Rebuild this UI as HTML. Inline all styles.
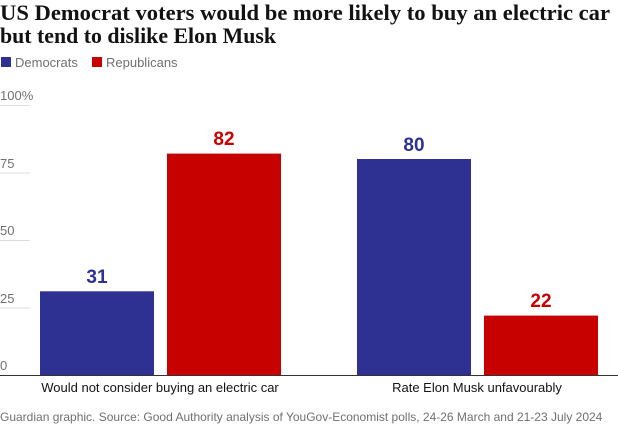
<!DOCTYPE html>
<html><head><meta charset="utf-8"><style>
html,body{margin:0;padding:0;background:#fff;width:618px;height:427px;overflow:hidden}
svg{display:block}
.s{font-family:"Liberation Sans",sans-serif}
</style></head><body>
<svg width="618" height="427" viewBox="0 0 618 427">
<text x="0" y="20" font-family="Liberation Serif,serif" font-weight="bold" font-size="22" fill="#121212" textLength="610" lengthAdjust="spacingAndGlyphs">US Democrat voters would be more likely to buy an electric car</text>
<text x="0" y="43" font-family="Liberation Serif,serif" font-weight="bold" font-size="22" fill="#121212" textLength="276" lengthAdjust="spacingAndGlyphs">but tend to dislike Elon Musk</text>
<rect x="1" y="57" width="10" height="10" fill="#2e3192"/>
<text class="s" x="15" y="67" font-size="13" fill="#707070">Democrats</text>
<rect x="92" y="57" width="10" height="10" fill="#c70000"/>
<text class="s" x="106" y="67" font-size="13" fill="#707070">Republicans</text>
<g stroke="#dcdcdc" stroke-width="1">
<line x1="0" x2="30" y1="105.5" y2="105.5"/>
<line x1="0" x2="30" y1="173" y2="173"/>
<line x1="0" x2="30" y1="240.5" y2="240.5"/>
<line x1="0" x2="30" y1="308" y2="308"/>
</g>
<g class="s" font-size="13" fill="#707070">
<text x="0" y="100">100%</text>
<text x="0" y="168">75</text>
<text x="0" y="235">50</text>
<text x="0" y="303">25</text>
<text x="0" y="370">0</text>
</g>
<rect x="40" y="291.3" width="114" height="83.7" fill="#2e3192"/>
<rect x="167" y="153.6" width="114" height="221.4" fill="#c70000"/>
<rect x="357" y="159" width="114" height="216" fill="#2e3192"/>
<rect x="484" y="315.6" width="114" height="59.4" fill="#c70000"/>
<line x1="0" x2="618" y1="375.5" y2="375.5" stroke="#333" stroke-width="1"/>
<g class="s" font-size="19" font-weight="bold" text-anchor="middle">
<text x="97" y="283" fill="#2e3192">31</text>
<text x="224" y="145" fill="#c70000">82</text>
<text x="414" y="151" fill="#2e3192">80</text>
<text x="541" y="307" fill="#c70000">22</text>
</g>
<g class="s" font-size="13" fill="#121212" text-anchor="middle">
<text x="160" y="392">Would not consider buying an electric car</text>
<text x="477" y="392">Rate Elon Musk unfavourably</text>
</g>
<text class="s" x="0" y="421" font-size="12" fill="#707070">Guardian graphic. Source: Good Authority analysis of YouGov-Economist polls, 24-26 March and 21-23 July 2024</text>
</svg>
</body></html>
